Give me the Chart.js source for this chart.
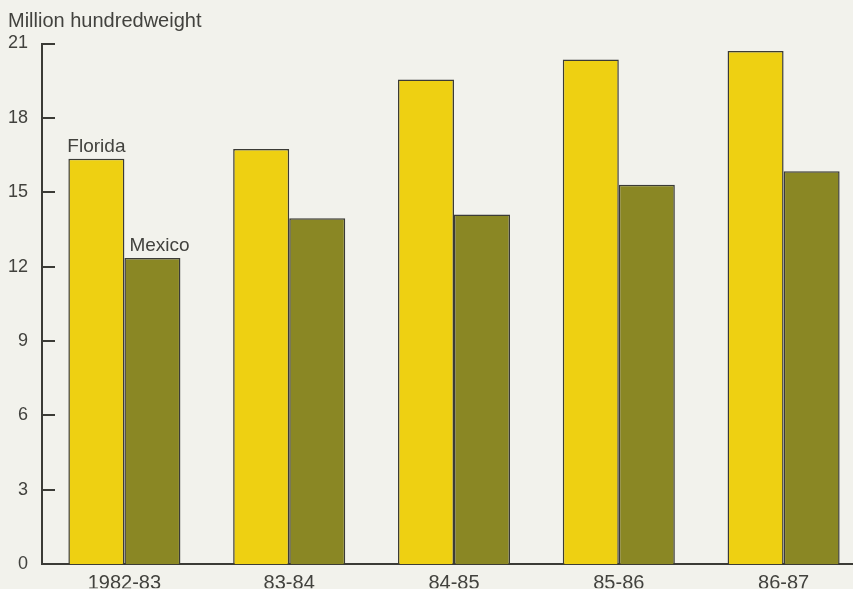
<!DOCTYPE html>
<html>
<head>
<meta charset="utf-8">
<script src="https://cdn.jsdelivr.net/npm/chart.js@4.4.0/dist/chart.umd.min.js"></script>
<style>
    html, body { margin: 0; padding: 0; background: #f2f2ec; overflow: hidden; }
    .chart-container { position: relative; width: 880px; height: 589px; }
</style>
</head>
<body>
<div class="chart-container">
    <canvas id="grafico-tomates"></canvas>
</div>
<script>
const seasons = ['1982-83', '83-84', '84-85', '85-86', '86-87']
const florida = [16.35, 16.75, 19.55, 20.35, 20.7]
const mexico = [12.35, 13.95, 14.1, 15.3, 15.85]
const yTicks = [0, 3, 6, 9, 12, 15, 18, 21]

const LINE = '#3b3b36'
const TEXT = '#42423e'
const FONT = "'Liberation Sans', Arial, Helvetica, sans-serif"

// unit caption, short tick marks pointing into the plot, series names over the first pair
const marksPlugin = {
    id: 'marks',
    afterDatasetsDraw(chart) {
        const { ctx, scales: { y }, chartArea } = chart
        ctx.save()
        ctx.strokeStyle = LINE
        ctx.lineWidth = 2
        yTicks.forEach(v => {
            const py = Math.round(y.getPixelForValue(v))
            ctx.beginPath()
            ctx.moveTo(chartArea.left, py)
            ctx.lineTo(chartArea.left + 13, py)
            ctx.stroke()
        })
        ctx.fillStyle = TEXT
        ctx.textBaseline = 'alphabetic'
        ctx.textAlign = 'left'
        ctx.font = `20px ${FONT}`
        ctx.fillText('Million hundredweight', 8, 27)
        ctx.font = `19px ${FONT}`
        const fl = chart.getDatasetMeta(0).data[0]
        const mx = chart.getDatasetMeta(1).data[0]
        ctx.fillText('Florida', fl.x - fl.width / 2 - 1, fl.y - 7)
        ctx.fillText('Mexico', mx.x - mx.width / 2 + 5, mx.y - 7)
        ctx.restore()
    }
}

const ctx = document.getElementById('grafico-tomates')
new Chart(ctx, {
    type: 'bar',
    data: {
        labels: seasons,
        datasets: [
            {
                label: 'Florida',
                data: florida,
                backgroundColor: '#eed012',
                borderColor: LINE,
                borderWidth: 1.5,
            },
            {
                label: 'Mexico',
                data: mexico,
                backgroundColor: '#8a8724',
                borderColor: LINE,
                borderWidth: 1.5,
            }
        ]
    },
    options: {
        responsive: true,
        maintainAspectRatio: false,
        animation: false,
        categoryPercentage: 0.68,
        barPercentage: 1.0,
        layout: { padding: { left: 0, right: 14, top: 43.5, bottom: 0 } },
        plugins: {
            legend: { display: false },
            tooltip: { enabled: false },
            title: { display: false }
        },
        scales: {
            x: {
                grid: { display: false, drawTicks: false },
                border: { display: true, color: LINE, width: 2 },
                ticks: {
                    color: TEXT,
                    padding: 7,
                    font: { family: FONT, size: 20 }
                },
                afterFit(scale) { scale.height = 24 }
            },
            y: {
                min: 0,
                max: 21,
                afterBuildTicks(scale) { scale.ticks = yTicks.map(v => ({ value: v })) },
                grid: { display: false, drawTicks: false },
                border: { display: true, color: LINE, width: 2 },
                ticks: {
                    color: TEXT,
                    padding: 14,
                    font: { family: FONT, size: 18 }
                },
                afterFit(scale) { scale.width = 42 }
            }
        }
    },
    plugins: [marksPlugin]
})
</script>
</body>
</html>
